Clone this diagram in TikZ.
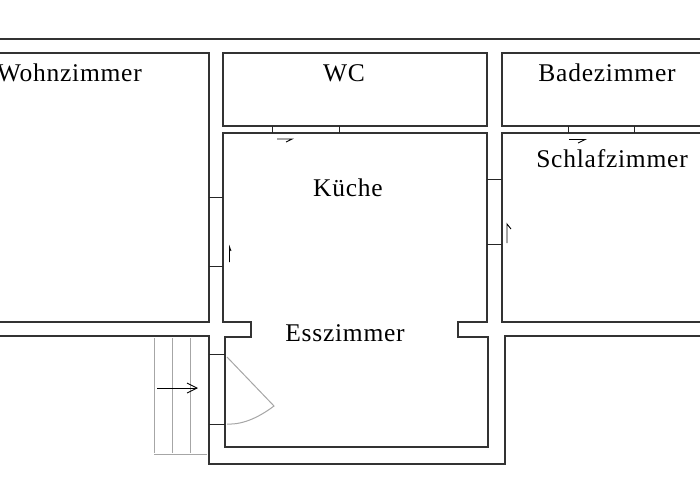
\documentclass[tikz,border=0pt]{standalone}
\usepackage{fontspec}
\setmainfont{Liberation Serif}[LetterSpace=3]
\tikzstyle{wall} = [draw=black!80, line width=1.1pt, line join=miter]
\tikzstyle{tick} = [draw=black!85, line width=1pt]
\tikzstyle{swing} = [draw=black, line width=0.9pt]
\tikzstyle{stair} = [draw=black!35, line width=1pt]
\tikzstyle{room} = [font=\fontsize{25.5}{25.5}\selectfont, text=black, inner sep=0pt]
\begin{document}
\begin{tikzpicture}[x=1pt,y=-1pt]
\useasboundingbox (0,0) rectangle (700,500);
% outer walls
\draw [wall] (0,39) -- (700,39);
\draw [wall] (0,53) -- (209,53) -- (209,322) -- (0,322);
\draw [wall] (0,336) -- (209,336) -- (209,464) -- (505,464) -- (505,336) -- (700,336);
% rooms
\draw [wall] (223,53) rectangle (487,126);
\draw [wall] (700,53) -- (502,53) -- (502,126) -- (700,126);
\draw [wall] (223,133) -- (487,133) -- (487,322) -- (458,322) -- (458,337) -- (488,337) -- (488,447) -- (225,447) -- (225,337) -- (251,337) -- (251,322) -- (223,322) -- cycle;
\draw [wall] (700,133) -- (502,133) -- (502,322) -- (700,322);
% door openings
\foreach \x in {272,339,568,634}
  \draw [tick] (\x,126) -- (\x,133);
\foreach \y in {197,266}
  \draw [tick] (209,\y) -- (223,\y);
\foreach \y in {179,244}
  \draw [tick] (487,\y) -- (502,\y);
\foreach \y in {354,424}
  \draw [tick] (209,\y) -- (225,\y);
% door swings
\draw [swing] (277,139) -- (292,139) -- (286,142);
\draw [swing] (569,139.5) -- (585,139.5) -- (578,143);
\draw [swing] (229.5,262) -- (229.5,247) -- (231,251);
\draw [swing] (507,243) -- (507,224) -- (511,229);
% entrance door
\draw [stair] (227,357) -- (274,406) .. controls (262,415) and (245,425) .. (227,424);
% stairs
\foreach \x in {154,172,190}
  \draw [stair] (\x,338) -- (\x,453);
\draw [stair] (154,454) -- (207,454);
\draw [swing] (157,388) -- (197,388);
\draw [swing] (187,383) -- (197,388) -- (187,393);
% labels
\node [room, anchor=east] (wohnzimmer) at (142,73) {Wohnzimmer};
\node [room] (wc) at (344,73) {WC};
\node [room] (badezimmer) at (607,73) {Badezimmer};
\node [room] (schlafzimmer) at (612,159) {Schlafzimmer};
\node [room] (kueche) at (348,188) {Küche};
\node [room] (esszimmer) at (345,333) {Esszimmer};
\end{tikzpicture}
\end{document}
